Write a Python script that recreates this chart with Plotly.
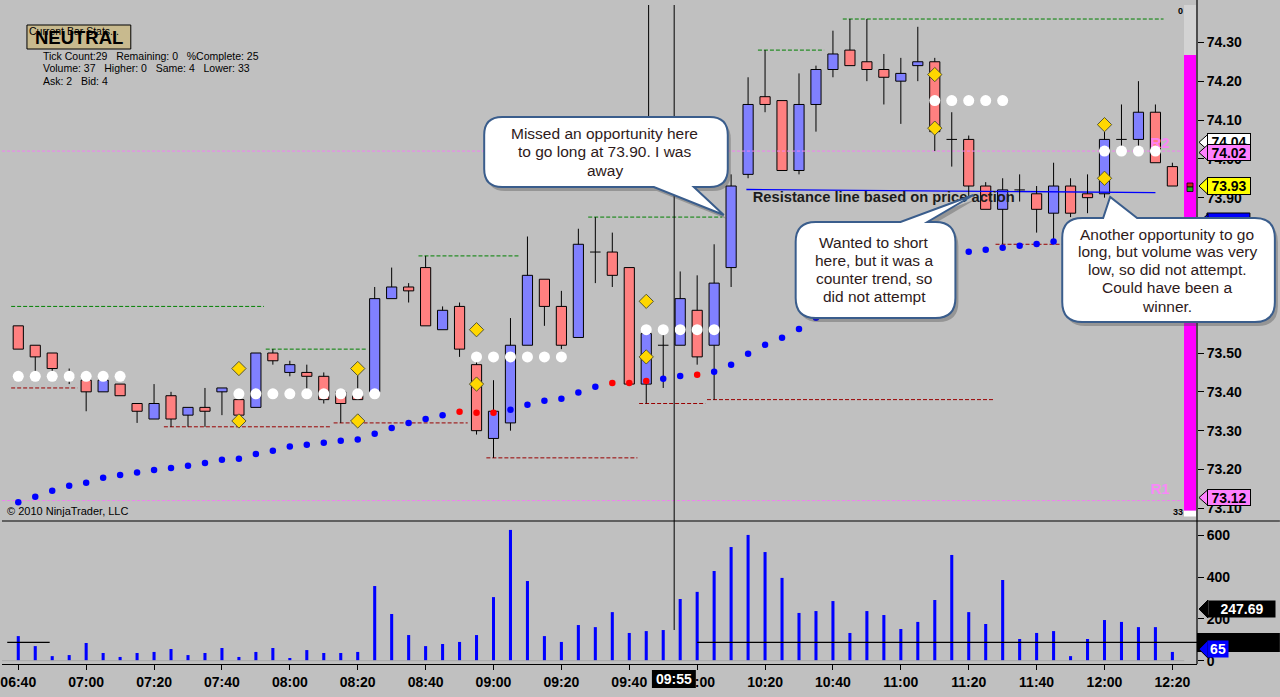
import plotly.graph_objects as go

FONT = "Liberation Sans, Arial, sans-serif"
N = None

# 5 minute bars, 06:40 .. 12:20 (69 bars), axis labelled every 20 minutes
tick_labels = ["06:40", "07:00", "07:20", "07:40", "08:00", "08:20", "08:40", "09:00", "09:20",
               "09:40", "10:00", "10:20", "10:40", "11:00", "11:20", "11:40", "12:00", "12:20"]

opens = [73.57, 73.52, 73.50, 73.44, 73.43, 73.40, 73.42, 73.37, 73.33, 73.39,
         73.34, 73.36, 73.40, 73.38, 73.36, 73.50, 73.45, 73.45, 73.44, 73.40,
         73.39, 73.40, 73.64, 73.67, 73.72, 73.56, 73.62, 73.47, 73.28, 73.32,
         73.52, 73.69, 73.62, 73.54, 73.76, 73.76, 73.72, 73.42, 73.52, 73.52,
         73.61, 73.52, 73.72, 73.96, 74.16, 74.15, 73.97, 74.14, 74.23, 74.28,
         74.25, 74.23, 74.20, 74.24, 74.25, 74.05, 74.05, 73.93, 73.87, 73.92,
         73.91, 73.86, 73.93, 73.91, 73.91, 74.05, 74.05, 74.12, 73.98]
highs = [73.57, 73.52, 73.50, 73.46, 73.44, 73.44, 73.42, 73.37, 73.42, 73.40,
         73.36, 73.41, 73.41, 73.39, 73.50, 73.51, 73.48, 73.47, 73.45, 73.40,
         73.45, 73.67, 73.72, 73.68, 73.75, 73.62, 73.63, 73.48, 73.43, 73.59,
         73.80, 73.69, 73.66, 73.82, 73.85, 73.81, 73.72, 73.56, 73.55, 73.71,
         73.70, 73.78, 73.96, 74.21, 74.28, 74.15, 74.22, 74.24, 74.33, 74.36,
         74.36, 74.27, 74.26, 74.34, 74.26, 74.12, 74.06, 73.94, 73.95, 73.96,
         73.93, 73.99, 73.95, 73.96, 74.07, 74.14, 74.20, 74.14, 73.99]
lows = [73.51, 73.45, 73.45, 73.42, 73.35, 73.40, 73.39, 73.32, 73.33, 73.31,
        73.31, 73.31, 73.34, 73.33, 73.36, 73.47, 73.44, 73.40, 73.37, 73.32,
        73.38, 73.40, 73.64, 73.63, 73.57, 73.56, 73.49, 73.29, 73.23, 73.30,
        73.52, 73.57, 73.51, 73.54, 73.68, 73.67, 73.42, 73.37, 73.41, 73.52,
        73.47, 73.38, 73.67, 73.95, 74.12, 73.97, 73.96, 74.07, 74.21, 74.24,
        74.20, 74.14, 74.09, 74.20, 74.02, 73.98, 73.90, 73.87, 73.78, 73.89,
        73.81, 73.79, 73.85, 73.86, 73.90, 74.02, 74.02, 73.99, 73.93]
closes = [73.51, 73.49, 73.46, 73.44, 73.40, 73.43, 73.39, 73.35, 73.37, 73.33,
          73.36, 73.35, 73.41, 73.34, 73.50, 73.48, 73.47, 73.44, 73.38, 73.37,
          73.38, 73.64, 73.67, 73.66, 73.57, 73.61, 73.51, 73.30, 73.35, 73.52,
          73.70, 73.62, 73.52, 73.78, 73.76, 73.70, 73.42, 73.55, 73.52, 73.64,
          73.49, 73.68, 73.93, 74.14, 74.14, 73.97, 74.14, 74.23, 74.27, 74.24,
          74.23, 74.21, 74.22, 74.25, 74.07, 74.05, 73.93, 73.87, 73.92, 73.92,
          73.87, 73.93, 73.86, 73.90, 74.05, 74.05, 74.12, 73.99, 73.93]
volumes = [118, 70, 22, 27, 85, 37, 18, 37, 42, 56,
           27, 37, 61, 18, 42, 61, 13, 51, 37, 37,
           42, 358, 224, 123, 70, 80, 90, 123, 305, 627,
           382, 118, 90, 171, 161, 233, 133, 142, 147, 296,
           330, 430, 545, 603, 521, 397, 229, 238, 286, 133,
           238, 219, 152, 186, 291, 507, 233, 176, 387, 104,
           133, 142, 22, 104, 195, 186, 161, 161, 42]

# white-dot indicator
white_dots = [73.44, 73.44, 73.44, 73.44, 73.44, 73.44, 73.44, N, N, N,
              N, N, N, 73.395, 73.395, 73.395, 73.395, 73.395, 73.395, 73.395,
              73.395, 73.395, N, N, N, N, N, 73.49, 73.49, 73.49,
              73.49, 73.49, 73.49, N, N, N, N, 73.56, 73.56, 73.56,
              73.56, 73.56, N, N, N, N, N, N, N, N,
              N, N, N, N, 74.15, 74.15, 74.15, 74.15, 74.15, N,
              N, N, N, N, 74.02, 74.02, 74.02, 74.02, N]
# trailing stop dots (hidden ones behind the callouts left empty)
stop_dots = [73.116, 73.130, 73.145, 73.158, 73.166, 73.179, 73.186, 73.192, 73.199, 73.204,
             73.210, 73.217, 73.225, 73.228, 73.240, 73.248, 73.259, 73.264, 73.269, 73.274,
             73.277, 73.292, 73.307, 73.320, 73.330, 73.340, 73.349, 73.346, 73.346, 73.354,
             73.367, 73.377, 73.382, 73.398, 73.413, 73.423, 73.423, 73.428, 73.434, 73.441,
             73.444, 73.452, 73.470, 73.498, 73.521, 73.539, 73.562, 73.591, N, N,
             N, N, N, N, N, N, 73.761, 73.766, 73.771, 73.776,
             73.781, 73.787, N, N, N, N, N, N, N]
stop_red_bars = [26, 27, 28, 35, 36, 37, 40]

diamond_bars = [13, 20, 27, 37, 54, 64]
diamond_upper = [73.46, 73.46, 73.56, 73.633, 74.217, 74.088]
diamond_lower = [73.325, 73.325, 73.42, 73.49, 74.079, 73.95]

# swing high / low levels: price, first bar, last bar
swing_high_price = [73.62, 73.51, 73.75, 73.85, 74.28, 74.36]
swing_high_from = [0, 15, 24, 34, 44, 49]
swing_high_to = [14, 20, 29, 41, 47, 67]
swing_low_price = [73.41, 73.31, 73.32, 73.23, 73.37, 73.38, 73.78]
swing_low_from = [0, 9, 19, 28, 37, 41, 58]
swing_low_to = [3, 18, 26, 36, 40, 57, 61]

pivot_r2 = 74.02
pivot_r1 = 73.12
ask_tag = 74.04
resist_from, resist_to = (42.9, 73.921), (67.0, 73.913)
vol_ref_level = 88
vol_avg_tag = 247.69
vol_tag = 65

# ---- geometry of the panes (pixels) ----
PLOT_W, PLOT_H = 1197, 664
PRICE_H, VOL_TOP = 520, 522
X_LEFT, X_RIGHT = -0.959, 69.45
P_TOP, P_BOT = 74.409, 73.070
V_TOP, V_BOT = 665.0, -15.8


def fx(px):
    return px / PLOT_W


def fy(py):
    return (PLOT_H - py) / PLOT_H


def bx(px):
    return X_LEFT + px / PLOT_W * (X_RIGHT - X_LEFT)


def price_y(p):
    return (P_TOP - p) / (P_TOP - P_BOT) * PRICE_H


def price_at(py):
    return P_TOP - py / PRICE_H * (P_TOP - P_BOT)


def vol_y(v):
    return VOL_TOP + (V_TOP - v) / (V_TOP - V_BOT) * (PLOT_H - VOL_TOP)


n = len(closes)
bars = list(range(n))

fig = go.Figure()

# candle bodies
body_x, body_base, body_h, body_col = [], [], [], []
doji_x, doji_y = [], []
wick_x, wick_y = [], []
for i in bars:
    o, h, l, c = opens[i], highs[i], lows[i], closes[i]
    top, bot = max(o, c), min(o, c)
    if abs(c - o) < 1e-9:
        doji_x += [i - 0.31, i + 0.31, None]
        doji_y += [o, o, None]
    else:
        body_x.append(i)
        body_base.append(bot)
        body_h.append(top - bot)
        body_col.append("#8080FF" if c > o else "#FF8080")
    if h > top:
        wick_x += [i, i, None]
        wick_y += [top, h, None]
    if l < bot:
        wick_x += [i, i, None]
        wick_y += [bot, l, None]

fig.add_trace(go.Bar(x=body_x, y=body_h, base=body_base, width=0.6,
                     marker=dict(color=body_col, line=dict(color="black", width=1)),
                     xaxis="x", yaxis="y", hoverinfo="skip"))
fig.add_trace(go.Bar(x=bars, y=volumes, width=0.18, marker=dict(color="#0000FF", line=dict(width=0)),
                     xaxis="x", yaxis="y2", hoverinfo="skip"))

# volume reference line pieces
fig.add_trace(go.Scatter(x=[-0.65, 1.85, None, 40.0, 69.5], y=[vol_ref_level] * 2 + [None] + [vol_ref_level] * 2,
                         mode="lines", line=dict(color="black", width=1.2), yaxis="y2", hoverinfo="skip"))
fig.add_trace(go.Scatter(x=[X_LEFT, 68.7], y=[0, 0], mode="lines", line=dict(color="#A8A8A8", width=1),
                         yaxis="y2", hoverinfo="skip"))

# swing levels
for prices, f, t, col in [(swing_high_price, swing_high_from, swing_high_to, "#008000"),
                          (swing_low_price, swing_low_from, swing_low_to, "#990000")]:
    xs, ys = [], []
    for p, a, b in zip(prices, f, t):
        xs += [a - 0.42, b + 0.48, None]
        ys += [p, p, None]
    fig.add_trace(go.Scatter(x=xs, y=ys, mode="lines", line=dict(color=col, width=1, dash="4px,2px"),
                             hoverinfo="skip"))

# pivots
for p in (pivot_r2, pivot_r1):
    fig.add_trace(go.Scatter(x=[X_LEFT, bx(1183)], y=[p, p], mode="lines",
                             line=dict(color="#F080F0", width=1, dash="3px,2px"), hoverinfo="skip"))

fig.add_trace(go.Scatter(x=[resist_from[0], resist_to[0]], y=[resist_from[1], resist_to[1]], mode="lines",
                         line=dict(color="#0000FF", width=1.4), hoverinfo="skip"))

fig.add_trace(go.Scatter(x=wick_x, y=wick_y, mode="lines", line=dict(color="black", width=1), hoverinfo="skip"))
fig.add_trace(go.Scatter(x=doji_x, y=doji_y, mode="lines", line=dict(color="black", width=1), hoverinfo="skip"))

fig.add_trace(go.Scatter(x=[bx(752)], y=[price_at(198)], mode="text", text=["Resistance line based on price action"],
                         textposition="middle right",
                         textfont=dict(family=FONT, size=14.7, color="#1C1C1C", weight="bold"), hoverinfo="skip"))
fig.add_trace(go.Scatter(x=[bx(1160), bx(1160)], y=[price_at(144), price_at(490)], mode="text", text=["R2", "R1"],
                         textfont=dict(family=FONT, size=15, color="rgba(255,130,255,0.9)", weight="bold"),
                         hoverinfo="skip"))

fig.add_trace(go.Scatter(x=bars, y=white_dots, mode="markers", marker=dict(size=11, color="white"),
                         hoverinfo="skip"))
stop_cols = ["#FF0000" if i in stop_red_bars else "#0000FF" for i in bars]
fig.add_trace(go.Scatter(x=bars, y=stop_dots, mode="markers", marker=dict(size=6.5, color=stop_cols),
                         hoverinfo="skip"))
fig.add_trace(go.Scatter(x=diamond_bars * 2, y=diamond_upper + diamond_lower, mode="markers",
                         marker=dict(symbol="diamond", size=11, color="#FFD700", line=dict(color="#555533", width=1)),
                         hoverinfo="skip"))

# ---- shapes (pixel positions converted to paper) ----
shapes = []


def rect(x0, y0, x1, y1, fill, line=None, lw=1):
    shapes.append(dict(type="rect", xref="paper", yref="paper", x0=fx(x0), x1=fx(x1), y0=fy(y1), y1=fy(y0),
                       fillcolor=fill, line=dict(color=line, width=lw) if line else dict(width=0), layer="above"))


def seg(x0, y0, x1, y1, color="black", w=1):
    shapes.append(dict(type="line", xref="paper", yref="paper", x0=fx(x0), x1=fx(x1), y0=fy(y0), y1=fy(y1),
                       line=dict(color=color, width=w), layer="above"))


def P(x, y):
    return f"{fx(x):.5f},{fy(y):.5f}"


def path(d, fill, line=None, lw=1):
    shapes.append(dict(type="path", xref="paper", yref="paper", path=d, fillcolor=fill,
                       line=dict(color=line, width=lw) if line else dict(width=0), layer="above"))


def bubble_path(x0, y0, x1, y1, r, side, a, b, tip, dx=0, dy=0):
    x0, x1, a, b = x0 + dx, x1 + dx, a + dx, b + dx
    y0, y1 = y0 + dy, y1 + dy
    tx, ty = tip[0] + dx, tip[1] + dy
    d = ["M" + P(x0 + r, y0)]
    if side == "top":
        d += ["L" + P(a, y0), "L" + P(tx, ty), "L" + P(b, y0)]
    d += ["L" + P(x1 - r, y0), "Q" + P(x1, y0) + " " + P(x1, y0 + r), "L" + P(x1, y1 - r),
          "Q" + P(x1, y1) + " " + P(x1 - r, y1)]
    if side == "bottom":
        d += ["L" + P(b, y1), "L" + P(tx, ty), "L" + P(a, y1)]
    d += ["L" + P(x0 + r, y1), "Q" + P(x0, y1) + " " + P(x0, y1 - r), "L" + P(x0, y0 + r),
          "Q" + P(x0, y0) + " " + P(x0 + r, y0), "Z"]
    return " ".join(d)


def tag_pointer(cy, half, fill):
    path("M" + P(1199, cy) + " L" + P(1208, cy - half) + " L" + P(1208, cy + half) + " Z", fill, "black", 1)


# pane frame lines
seg(0, 521, 1280, 521, "black", 1.2)
seg(1197, 0, 1197, PLOT_H, "black", 1.2)
seg(673.3, 5, 673.3, 630, "black", 1)
seg(647.7, 5, 647.7, 125, "black", 1)

# tick counter bar
rect(1184, 5, 1196, 55, "#D3D3D3")
rect(1184, 55, 1196, 510.7, "#FF00FF")
rect(1184, 510.7, 1196, 516.5, "white")
rect(1187, 183, 1193, 187, "#CC2020", "black", 0.8)
rect(1187, 187, 1193, 191.5, "#20B020", "black", 0.8)

# info box
rect(25, 25, 129, 49, "#C8BA8E", "black", 1)

# price tags (pointers)
tag_pointer(price_y(ask_tag) - 1, 8, "white")
tag_pointer(price_y(pivot_r2) + 1.5, 8, "#FF80FF")
tag_pointer(price_y(closes[-1]), 8.5, "#FFFF00")
rect(1207, 213, 1250, 231, "#0000FF", "black", 1)
tag_pointer(222, 8, "#0000FF")
tag_pointer(price_y(pivot_r1) - 3, 8, "#FF80FF")
rect(1197, 633, 1280, 652, "black")
tag_pointer(vol_y(vol_avg_tag), 9, "black")
tag_pointer(vol_y(vol_tag) + 2, 9, "#0000FF")

# 09:55 cursor label on the time axis
rect(651, 670, 695, 688, "black")

# callouts with shadows
callouts = [
    (483, 117, 727, 187, 18, "bottom", 653, 693, (723, 215)),
    (795, 222, 955, 318, 20, "top", 900, 927, (973, 195)),
    (1062, 218, 1275, 322, 20, "top", 1103, 1137, (1110, 197)),
]
for x0, y0, x1, y1, r, side, a, b, tip in callouts:
    path(bubble_path(x0, y0, x1, y1, r, side, a, b, tip, 3, 4), "rgba(70,70,70,0.35)")
    path(bubble_path(x0, y0, x1, y1, r, side, a, b, tip), "white", "#3A5D8C", 2)

# ---- annotations ----
ann = []


def text(x, y, s, size=11, color="black", xanchor="left", bold=False, **kw):
    ann.append(dict(x=fx(x), y=fy(y), xref="paper", yref="paper", text=s, showarrow=False,
                    xanchor=xanchor, yanchor="middle",
                    font=dict(family=FONT, size=size, color=color, weight="bold" if bold else "normal"), **kw))


sp = "\u00a0\u00a0\u00a0"
text(25, 31, "Current Bar Stats...", 10.5)
text(77, 37, "NEUTRAL", 18.5, xanchor="center", bold=True)
text(39, 56, f"Tick Count:29{sp}Remaining: 0{sp}%Complete: 25", 10.5)
text(39, 68.5, f"Volume: 37{sp}Higher: 0{sp}Same: 4{sp}Lower: 33", 10.5)
text(39, 81, f"Ask: 2{sp}Bid: 4", 10.5)
text(3, 511, "© 2010 NinjaTrader, LLC", 11)
text(1180, 11, "0", 9, xanchor="center", bold=True)
text(1178, 512, "33", 9, xanchor="center", bold=True)


def tag(cy, s, fill, color="black", w=42, h=15):
    text(1229, cy, s, 14, color, xanchor="center", bold=True, bgcolor=fill, bordercolor="black",
         borderwidth=1, borderpad=0, width=w, height=h)


tag(price_y(ask_tag) - 1, f"{ask_tag:.2f}", "white", h=16)
tag(price_y(pivot_r2) + 1.5, f"{pivot_r2:.2f}", "#FF80FF")
tag(price_y(closes[-1]), f"{closes[-1]:.2f}", "#FFFF00", h=16)
tag(price_y(pivot_r1) - 3, f"{pivot_r1:.2f}", "#FF80FF")
ann.append(dict(x=fx(1242), y=fy(vol_y(vol_avg_tag)), xref="paper", yref="paper", text=f"{vol_avg_tag:.2f}",
                showarrow=False, xanchor="center", yanchor="middle", bgcolor="black", width=66, height=16,
                borderpad=0, font=dict(family=FONT, size=14, color="white", weight="bold")))
ann.append(dict(x=fx(1218), y=fy(vol_y(vol_tag) + 2), xref="paper", yref="paper", text=str(vol_tag),
                showarrow=False, xanchor="center", yanchor="middle", bgcolor="#0000FF", width=20, height=16,
                borderpad=0, font=dict(family=FONT, size=14, color="white", weight="bold")))
text(673, 679, "09:55", 14, "white", xanchor="center", bold=True)

ctext = "#2E1A1A"
for i, s in enumerate(["Missed an opportunity here", "to go long at 73.90. I was", "away"]):
    text(604, 133.7 + 18.3 * i, s, 15.5, ctext, xanchor="center")
for i, s in enumerate(["Wanted to short", "here, but it was a", "counter trend, so", "did not attempt"]):
    text(873.5, 242.3 + 18 * i, s, 15.5, ctext, xanchor="center")
for i, s in enumerate(["Another opportunity to go", "long, but volume was very", "low, so did not attempt.",
                       "Could have been a", "winner."]):
    text(1167, 234 + 18 * i, s, 15.5, ctext, xanchor="center")

fig.update_layout(
    width=1280, height=697,
    margin=dict(l=0, r=83, t=0, b=33),
    paper_bgcolor="#C0C0C0", plot_bgcolor="#C0C0C0",
    showlegend=False, hovermode=False, barmode="overlay",
    shapes=shapes, annotations=ann,
    xaxis=dict(range=[X_LEFT, X_RIGHT], anchor="y2", tickvals=list(range(0, n, 4)), ticktext=tick_labels,
               ticks="outside", ticklen=5, tickcolor="black", showgrid=False, zeroline=False,
               showline=True, linecolor="black", linewidth=1.2, ticklabeloverflow="allow",
               tickfont=dict(family=FONT, size=14, color="black", weight="bold")),
    yaxis=dict(domain=[(PLOT_H - PRICE_H) / PLOT_H, 1], range=[P_BOT, P_TOP], side="right",
               tickvals=[73.1, 73.2, 73.3, 73.4, 73.5, 73.6, 73.7, 73.8, 73.9, 74.0, 74.1, 74.2, 74.3],
               tickformat=".2f", ticks="outside", ticklen=6, tickcolor="black", showgrid=False, zeroline=False,
               tickfont=dict(family=FONT, size=14, color="black", weight="bold")),
    yaxis2=dict(domain=[0, (PLOT_H - VOL_TOP) / PLOT_H], range=[V_BOT, V_TOP], side="right",
                tickvals=[0, 200, 400, 600], ticks="outside", ticklen=6, tickcolor="black",
                showgrid=False, zeroline=False,
                tickfont=dict(family=FONT, size=14, color="black", weight="bold")),
)

# the page has a default 8px body margin; drop it so the chart sits at the window corner
fig.write_html("out.html", config={"displayModeBar": False},
               post_script="document.body.style.margin='0';")
